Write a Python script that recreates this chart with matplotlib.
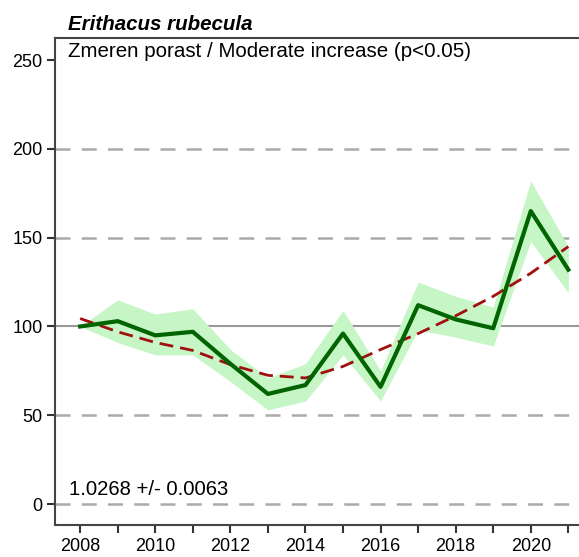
"""Index chart for Erithacus rubecula with trend and confidence band."""
import matplotlib.pyplot as plt

plt.rcParams["font.family"] = ["Liberation Sans", "DejaVu Sans"]

years = list(range(2008, 2022))
index = [100, 103, 95, 97, 79, 62, 67, 96, 66, 112, 104, 99, 165, 132]
lower = [100, 91, 84, 84, 69, 53, 58, 84, 58, 98, 94, 89, 148, 119]
upper = [100, 115, 107, 110, 87, 71, 79, 109, 75, 125, 117, 111, 182, 145]
trend = [104.5, 97, 91, 86.5, 78.5, 72.5, 71, 77.5, 87, 96, 106, 117, 130, 145]

title = "Erithacus rubecula"
subtitle = "Zmeren porast / Moderate increase (p<0.05)"
slope_text = "1.0268 +/- 0.0063"

fig = plt.figure(figsize=(5.79, 5.57), dpi=100)
fig.set_facecolor("white")
ax = fig.add_axes([0.095, 0.0575, 0.93, 0.874])

for level in [0, 50, 150, 200]:
    ax.axhline(level, color="#aaaaaa", lw=1.8, ls=(0, (6, 4.5)), zorder=1)
ax.axhline(100, color="#999999", lw=1.5, zorder=1)

ax.fill_between(years, lower, upper, color="#c6f5c6", lw=0, zorder=2)
ax.plot(years, index, color="#006400", lw=3, zorder=4)
ax.plot(years, trend, color="#a01010", lw=2, ls=(0, (5, 2.5)), zorder=3)

ax.set_xlim(2007.33, 2021.67)
ax.set_ylim(-11.8, 262.4)
ax.set_yticks([0, 50, 100, 150, 200, 250])
ax.set_xticks(years)
ax.set_xticklabels([str(y) if y % 2 == 0 else "" for y in years])
ax.tick_params(axis="both", direction="out", length=6, width=1.5,
               color="#333333", labelsize=13, pad=3)
ax.tick_params(axis="x", pad=3.5)

for side in ["left", "bottom", "top", "right"]:
    ax.spines[side].set_color("#444444")
    ax.spines[side].set_linewidth(1.5)

ax.text(0.024, 1.008, title, transform=ax.transAxes, fontsize=14.8,
        fontweight="bold", fontstyle="italic", va="bottom", ha="left")
ax.text(0.024, 0.992, subtitle, transform=ax.transAxes, fontsize=14.8,
        va="top", ha="left")
ax.text(2007.69, 3, slope_text, fontsize=14.6, va="bottom", ha="left")

fig.savefig("out.png", dpi=100)
